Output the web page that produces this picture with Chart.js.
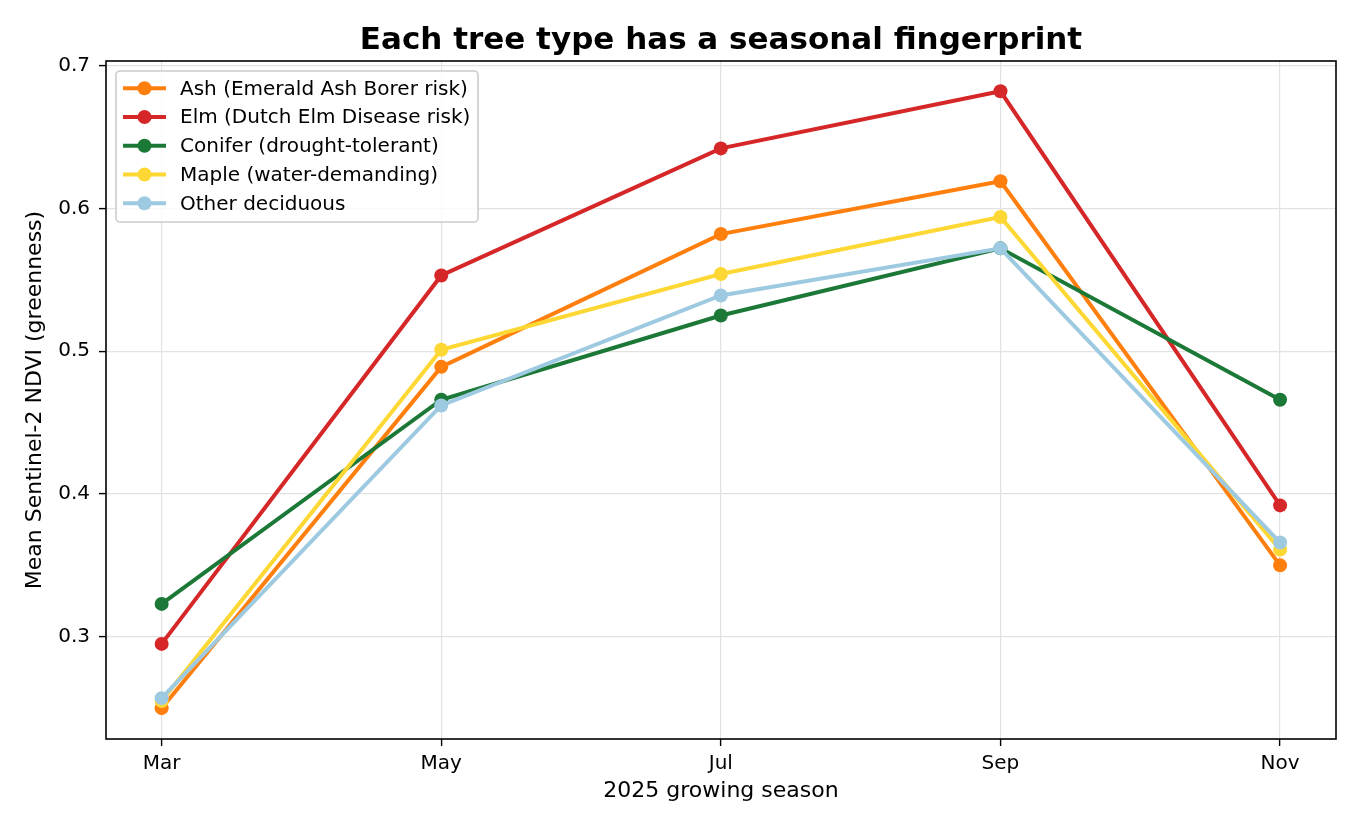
<!DOCTYPE html>
<html>
<head>
<meta charset="utf-8">
<script src="https://cdn.jsdelivr.net/npm/chart.js@4.4.1/dist/chart.umd.min.js"></script>
<style>
html,body{margin:0;padding:0;background:#fff;}
#wrap{width:1360px;height:832px;position:relative;}
</style>
</head>
<body>
<div id="wrap"><canvas id="c" width="1360" height="832"></canvas></div>
<script>
const chartTitle = 'Each tree type has a seasonal fingerprint';
const xTitle = '2025 growing season';
const yTitle = 'Mean Sentinel-2 NDVI (greenness)';
const months = ['Mar', 'May', 'Jul', 'Sep', 'Nov'];
const yTicks = [0.3, 0.4, 0.5, 0.6, 0.7];

const seriesNames = [
  'Ash (Emerald Ash Borer risk)',
  'Elm (Dutch Elm Disease risk)',
  'Conifer (drought-tolerant)',
  'Maple (water-demanding)',
  'Other deciduous'
];
const ash     = [0.250, 0.489, 0.582, 0.619, 0.350];
const elm     = [0.295, 0.553, 0.642, 0.682, 0.392];
const conifer = [0.323, 0.466, 0.525, 0.572, 0.466];
const maple   = [0.255, 0.501, 0.554, 0.594, 0.361];
const other   = [0.257, 0.462, 0.539, 0.572, 0.366];
const seriesValues = [ash, elm, conifer, maple, other];
const seriesColors = ['#ff7f0e', '#d62728', '#1b7837', '#fdd835', '#9ecae1'];

const FONT = 'DejaVu Sans';

const datasets = seriesNames.map((name, i) => ({
  label: name,
  data: seriesValues[i].map((v, j) => ({x: j, y: v})),
  borderColor: seriesColors[i],
  backgroundColor: seriesColors[i],
  pointBackgroundColor: seriesColors[i],
  pointBorderColor: seriesColors[i],
  borderWidth: 4,
  pointRadius: 7,
  pointBorderWidth: 0,
  pointHoverRadius: 7,
  tension: 0,
  order: seriesNames.length - 1 - i
}));

const framePlugin = {
  id: 'frame',
  afterDraw(chart) {
    const {ctx, chartArea: a} = chart;
    ctx.save();
    ctx.strokeStyle = '#000';
    ctx.lineWidth = 1.6;
    ctx.strokeRect(a.left, a.top, a.right - a.left, a.bottom - a.top);
    // title
    ctx.fillStyle = '#000';
    ctx.font = 'bold 31px "' + FONT + '"';
    ctx.textAlign = 'center';
    ctx.textBaseline = 'alphabetic';
    ctx.fillText(chartTitle, (a.left + a.right) / 2, 49);
    // legend
    const lx = 116, ly = 71, lw = 362, lh = 151;
    ctx.fillStyle = 'rgba(255,255,255,0.8)';
    ctx.strokeStyle = '#cccccc';
    ctx.lineWidth = 1.6;
    ctx.beginPath();
    if (ctx.roundRect) ctx.roundRect(lx, ly, lw, lh, 4); else ctx.rect(lx, ly, lw, lh);
    ctx.fill();
    ctx.stroke();
    const rowY0 = 88.3, rowGap = 28.75;
    ctx.font = '20px "' + FONT + '"';
    ctx.textAlign = 'left';
    ctx.textBaseline = 'middle';
    chart.data.datasets.forEach((ds, i) => {
      const y = rowY0 + i * rowGap;
      ctx.strokeStyle = ds.borderColor;
      ctx.lineWidth = 4;
      ctx.beginPath();
      ctx.moveTo(123, y);
      ctx.lineTo(166, y);
      ctx.stroke();
      ctx.fillStyle = ds.borderColor;
      ctx.beginPath();
      ctx.arc(144.5, y, 7, 0, Math.PI * 2);
      ctx.fill();
      ctx.fillStyle = '#000';
      ctx.fillText(ds.label, 180, y + 1);
    });
    ctx.restore();
  }
};

new Chart(document.getElementById('c'), {
  type: 'line',
  data: {datasets},
  plugins: [framePlugin],
  options: {
    responsive: false,
    animation: false,
    devicePixelRatio: 1,
    layout: {padding: {left: 0, right: 24, top: 61, bottom: 0}},
    plugins: {legend: {display: false}, title: {display: false}, tooltip: {enabled: false}},
    scales: {
      x: {
        type: 'linear',
        min: -0.199,
        max: 4.2,
        afterBuildTicks: s => { s.ticks = months.map((m, i) => ({value: i})); },
        afterFit: s => { s.height = 93; },
        ticks: {
          callback: v => months[v],
          color: '#000',
          font: {family: FONT, size: 20},
          padding: 6,
          autoSkip: false,
          maxRotation: 0
        },
        grid: {color: '#e2e2e2', lineWidth: 1.2, tickColor: '#000', tickLength: 7, tickWidth: 1.4, drawOnChartArea: true},
        border: {display: false},
        title: {display: true, text: xTitle, color: '#000', font: {family: FONT, size: 22}, padding: {top: 0, bottom: 28}}
      },
      y: {
        type: 'linear',
        min: 0.2284,
        max: 0.7032,
        afterBuildTicks: s => { s.ticks = yTicks.map(v => ({value: v})); },
        afterFit: s => { s.width = 106; },
        ticks: {
          callback: v => v.toFixed(1),
          color: '#000',
          font: {family: FONT, size: 20},
          padding: 9
        },
        grid: {color: '#e2e2e2', lineWidth: 1.2, tickColor: '#000', tickLength: 7, tickWidth: 1.4},
        border: {display: false},
        title: {display: true, text: yTitle, color: '#000', font: {family: FONT, size: 22}, padding: {top: 22, bottom: 0}}
      }
    }
  }
});
</script>
</body>
</html>
